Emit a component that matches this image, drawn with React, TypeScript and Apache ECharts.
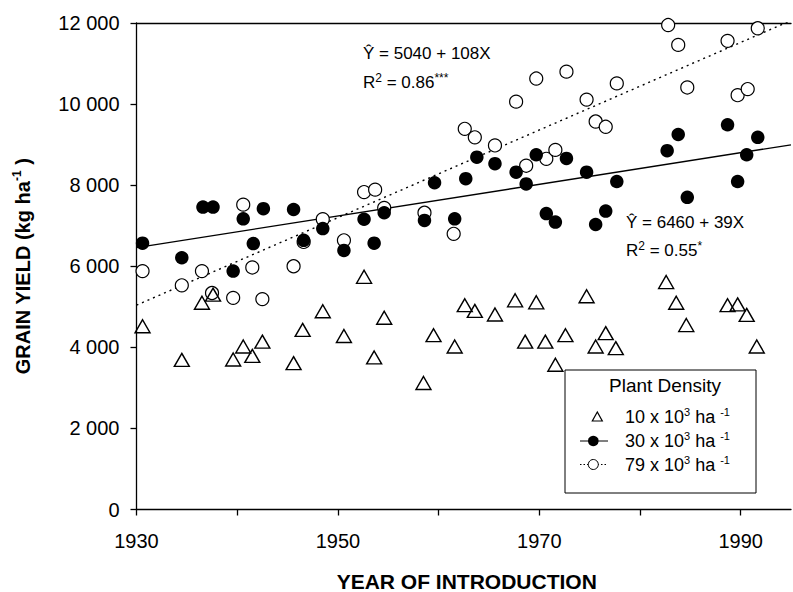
import React, { useEffect, useRef } from 'react';
import * as echarts from 'echarts';

const FONT = '"Liberation Sans", Arial, Helvetica, sans-serif';

// 10 x 10^3 ha-1 (open triangles)
const yearsLow = [1930.6, 1934.5, 1936.5, 1937.6, 1939.6, 1940.6, 1941.5, 1942.5, 1945.6, 1946.5, 1948.5, 1950.6, 1952.6, 1953.6, 1954.6, 1958.5, 1959.5, 1961.6, 1962.6, 1963.6, 1965.6, 1967.6, 1968.6, 1969.7, 1970.6, 1971.6, 1972.6, 1974.7, 1975.6, 1976.6, 1977.6, 1982.6, 1983.6, 1984.6, 1988.7, 1989.7, 1990.6, 1991.6];
const yieldLow = [4520, 3690, 5100, 5300, 3700, 4020, 3790, 4140, 3610, 4430, 4890, 4280, 5740, 3750, 4730, 3120, 4300, 4020, 5040, 4900, 4810, 5160, 4140, 5110, 4140, 3570, 4300, 5260, 4020, 4350, 3980, 5610, 5100, 4550, 5040, 5060, 4800, 4020];

// 30 x 10^3 ha-1 (filled circles)
const yearsMid = [1930.6, 1934.5, 1936.6, 1937.6, 1939.6, 1940.6, 1941.6, 1942.6, 1945.6, 1946.6, 1948.5, 1950.6, 1952.6, 1953.6, 1954.6, 1958.6, 1959.6, 1961.6, 1962.7, 1963.8, 1965.6, 1967.7, 1968.7, 1969.7, 1970.7, 1971.6, 1972.7, 1974.7, 1975.6, 1976.6, 1977.7, 1982.7, 1983.8, 1984.7, 1988.7, 1989.7, 1990.6, 1991.7];
const yieldMid = [6570, 6210, 7460, 7460, 5880, 7170, 6560, 7420, 7400, 6640, 6930, 6390, 7160, 6570, 7320, 7130, 8060, 7170, 8160, 8690, 8530, 8320, 8030, 8750, 7300, 7090, 8660, 8320, 7030, 7360, 8090, 8850, 9250, 7700, 9490, 8090, 8750, 9180];

// 79 x 10^3 ha-1 (open circles)
const yearsHigh = [1930.6, 1934.5, 1936.5, 1937.5, 1939.6, 1940.6, 1941.5, 1942.5, 1945.6, 1946.6, 1948.5, 1950.6, 1952.6, 1953.7, 1954.6, 1958.6, 1961.5, 1962.6, 1963.6, 1965.6, 1967.7, 1968.7, 1969.7, 1970.7, 1971.6, 1972.7, 1974.7, 1975.6, 1976.6, 1977.7, 1982.8, 1983.8, 1984.7, 1988.7, 1989.7, 1990.7, 1991.7];
const yieldHigh = [5880, 5530, 5880, 5340, 5220, 7520, 5970, 5190, 6000, 6600, 7160, 6640, 7830, 7890, 7440, 7320, 6800, 9390, 9180, 8980, 10060, 8480, 10630, 8650, 8870, 10800, 10110, 9570, 9440, 10510, 11950, 11460, 10410, 11560, 10220, 10370, 11870];

// Regression equations printed on the chart (X = year - 1930)
const fitMidCoef = [6460, 39];
const fitHighCoef = [5040, 108];
const fitYears = [1930, 1995];

const xTickValues = [1930, 1940, 1950, 1960, 1970, 1980, 1990];
const xLabelValues = [1930, 1950, 1970, 1990];

const legendLabels = ['10', '30', '79'];

function pairs(xs: number[], ys: number[]) {
  return xs.map((x, i) => [x, ys[i]]);
}
function fitLine(coef: number[]) {
  return fitYears.map((yr) => [yr, coef[0] + coef[1] * (yr - fitYears[0])]);
}

const supStyle = (size: number) => ({ fontSize: size, lineHeight: size, verticalAlign: 'top' as const, fontFamily: FONT, fill: '#000', color: '#000' });

export default function App() {
  const ref = useRef<HTMLDivElement>(null);
  useEffect(() => {
    const chart = echarts.init(ref.current!, null, { renderer: 'svg' });
    const eqRich = {
      n: { fontSize: 17, lineHeight: 21, fontFamily: FONT, fill: '#000', color: '#000' },
      sup: supStyle(12),
    };
    const legRich = {
      n: { fontSize: 18, lineHeight: 22, fontFamily: FONT, fill: '#000', color: '#000' },
      sup: supStyle(11),
    };
    const option: any = {
      animation: false,
      backgroundColor: '#fff',
      grid: { left: 136.5, top: 23, right: 2, bottom: 82.5, containLabel: false, outerBoundsMode: 'none' },
      xAxis: [
        {
          type: 'value',
          min: 1930,
          max: 1995,
          interval: 10,
          axisLine: { show: true, lineStyle: { color: '#000', width: 1.3 } },
          axisTick: { show: true, length: 6, inside: false, customValues: xTickValues, lineStyle: { color: '#000', width: 1.3 } },
          axisLabel: {
            customValues: xLabelValues,
            fontSize: 20,
            lineHeight: 20,
            margin: 21,
            color: '#000',
            fontFamily: FONT,
            formatter: (v: number) => String(Math.round(v)),
          },
          splitLine: { show: false },
          name: 'YEAR OF INTRODUCTION',
          nameLocation: 'middle',
          nameGap: 60,
          nameTextStyle: { fontSize: 21, lineHeight: 24, fontWeight: 'bold', color: '#000', fontFamily: FONT, padding: [0, 0, 0, 6] },
        },
        {
          type: 'value',
          position: 'top',
          min: 1930,
          max: 1995,
          axisLine: { show: true, lineStyle: { color: '#000', width: 1.3 } },
          axisTick: { show: false },
          axisLabel: { show: false },
          splitLine: { show: false },
        },
      ],
      yAxis: {
        type: 'value',
        min: 0,
        max: 12000,
        interval: 2000,
        axisLine: { show: true, lineStyle: { color: '#000', width: 1.3 } },
        axisTick: { show: true, length: 6, inside: false, lineStyle: { color: '#000', width: 1.3 } },
        axisLabel: {
          fontSize: 20,
          margin: 17,
          color: '#000',
          fontFamily: FONT,
          formatter: (v: number) => (v === 0 ? '0' : `${Math.round(v / 1000)} 000`),
        },
        splitLine: { show: false },
        name: '{b|GRAIN YIELD (kg ha}{sup|-1}{b| )}',
        nameLocation: 'middle',
        nameGap: 102,
        nameTextStyle: {
          color: '#000',
          rich: {
            b: { fontSize: 20, lineHeight: 24, fontWeight: 'bold', fontFamily: FONT, color: '#000' },
            sup: { fontSize: 12, lineHeight: 12, verticalAlign: 'top', fontWeight: 'bold', fontFamily: FONT, color: '#000' },
          },
        },
      },
      series: [
        {
          name: 'fit79',
          type: 'line',
          data: fitLine(fitHighCoef),
          showSymbol: false,
          clip: true,
          silent: true,
          z: 1,
          lineStyle: { color: '#000', width: 1.4, type: [2, 4] },
        },
        {
          name: 'fit30',
          type: 'line',
          data: fitLine(fitMidCoef),
          showSymbol: false,
          clip: true,
          silent: true,
          z: 1,
          lineStyle: { color: '#000', width: 1.4, type: 'solid' },
        },
        {
          name: '79 x 10^3 ha-1',
          type: 'scatter',
          data: pairs(yearsHigh, yieldHigh),
          symbol: 'circle',
          symbolSize: 13,
          z: 2,
          itemStyle: { color: '#fff', borderColor: '#000', borderWidth: 1.2, opacity: 1 },
        },
        {
          name: '10 x 10^3 ha-1',
          type: 'scatter',
          data: pairs(yearsLow, yieldLow),
          symbol: 'triangle',
          symbolSize: [15, 13],
          z: 3,
          itemStyle: { color: 'rgba(255,255,255,0)', borderColor: '#000', borderWidth: 1.4, opacity: 1 },
        },
        {
          name: '30 x 10^3 ha-1',
          type: 'scatter',
          data: pairs(yearsMid, yieldMid),
          symbol: 'circle',
          symbolSize: 13.5,
          z: 4,
          itemStyle: { color: '#000', borderColor: '#000', borderWidth: 0, opacity: 1 },
        },
      ],
      graphic: [
        // regression equations
        { type: 'text', x: 363, y: 53, z: 10, style: { text: '{n|\u0176 = 5040 + 108X}', rich: eqRich, verticalAlign: 'middle', align: 'left' } },
        { type: 'text', x: 363, y: 82, z: 10, style: { text: '{n|R}{sup|2}{n| = 0.86}{sup|***}', rich: eqRich, verticalAlign: 'middle', align: 'left' } },
        { type: 'text', x: 626, y: 222, z: 10, style: { text: '{n|\u0176 = 6460 + 39X}', rich: eqRich, verticalAlign: 'middle', align: 'left' } },
        { type: 'text', x: 626, y: 250, z: 10, style: { text: '{n|R}{sup|2}{n| = 0.55}{sup|*}', rich: eqRich, verticalAlign: 'middle', align: 'left' } },
        // legend
        {
          type: 'group',
          z: 20,
          children: [
            { type: 'rect', shape: { x: 565, y: 370, width: 191, height: 123 }, style: { fill: '#fff', stroke: '#000', lineWidth: 1 } },
            { type: 'text', x: 665, y: 385, style: { text: 'Plant Density', fontSize: 19, fontFamily: FONT, fill: '#000', align: 'center', verticalAlign: 'middle' } },
            { type: 'polygon', shape: { points: [[597.3, 412], [592.3, 421], [602.3, 421]] }, style: { fill: 'none', stroke: '#000', lineWidth: 1.2 } },
            { type: 'line', shape: { x1: 580, y1: 441, x2: 608, y2: 441 }, style: { stroke: '#000', lineWidth: 1 } },
            { type: 'circle', shape: { cx: 593.3, cy: 441, r: 5.3 }, style: { fill: '#000', stroke: '#000', lineWidth: 0 } },
            { type: 'line', shape: { x1: 580, y1: 464.5, x2: 608, y2: 464.5 }, style: { stroke: '#000', lineWidth: 1, lineDash: [1.5, 2] } },
            { type: 'circle', shape: { cx: 593.3, cy: 464.5, r: 5 }, style: { fill: '#fff', stroke: '#000', lineWidth: 1 } },
            { type: 'text', x: 625, y: 417, style: { text: `{n|${legendLabels[0]} x 10}{sup|3}{n| ha }{sup|-1}`, rich: legRich, verticalAlign: 'middle', align: 'left' } },
            { type: 'text', x: 625, y: 441, style: { text: `{n|${legendLabels[1]} x 10}{sup|3}{n| ha }{sup|-1}`, rich: legRich, verticalAlign: 'middle', align: 'left' } },
            { type: 'text', x: 625, y: 465, style: { text: `{n|${legendLabels[2]} x 10}{sup|3}{n| ha }{sup|-1}`, rich: legRich, verticalAlign: 'middle', align: 'left' } },
          ],
        },
      ],
    };
    chart.setOption(option);
    return () => chart.dispose();
  }, []);
  return (
    <div
      ref={ref}
      style={{ position: 'fixed', left: 0, top: 0, width: 793, height: 592, background: '#fff' }}
    />
  );
}
